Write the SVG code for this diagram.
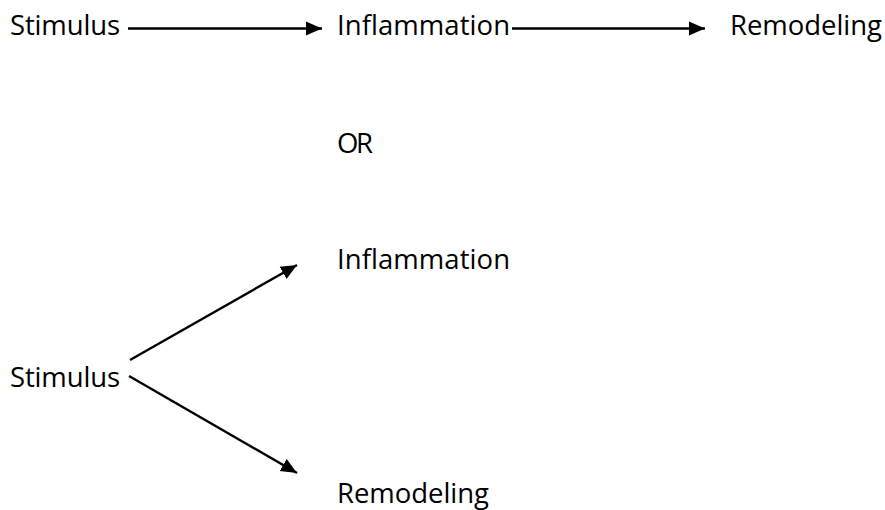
<svg xmlns="http://www.w3.org/2000/svg" width="885" height="510" viewBox="0 0 885 510">
<style>
text{font-family:"Open Sans","Liberation Sans",sans-serif;font-size:27.5px;fill:#000}
.c line{stroke:#000;stroke-width:2.4;fill:none}
</style>
<defs>
<marker id="ah" markerUnits="userSpaceOnUse" markerWidth="17" markerHeight="15" refX="16" refY="7" orient="auto" viewBox="0 0 17 14">
<path d="M0,0 L16,7 L0,14 Z" fill="#000"/>
</marker>
</defs>
<rect width="885" height="510" fill="#fff"/>
<g id="n-stim1"><text x="10" y="35" textLength="110">Stimulus</text></g>
<g id="n-infl1"><text x="337" y="35" textLength="173">Inflammation</text></g>
<g id="n-remo1"><text x="730" y="35" textLength="152">Remodeling</text></g>
<g id="n-or"><text x="337" y="153" textLength="36">OR</text></g>
<g id="n-infl2"><text x="337" y="269" textLength="173">Inflammation</text></g>
<g id="n-stim2"><text x="10" y="387" textLength="110">Stimulus</text></g>
<g id="n-remo2"><text x="337" y="503" textLength="152">Remodeling</text></g>
<g id="connectors" class="c">
<line x1="128" y1="28.5" x2="322" y2="28.5" marker-end="url(#ah)"/>
<line x1="512" y1="28.5" x2="705" y2="28.5" marker-end="url(#ah)"/>
<line x1="130" y1="360" x2="297" y2="265" marker-end="url(#ah)"/>
<line x1="129" y1="376" x2="297" y2="473" marker-end="url(#ah)"/>
</g>
</svg>
